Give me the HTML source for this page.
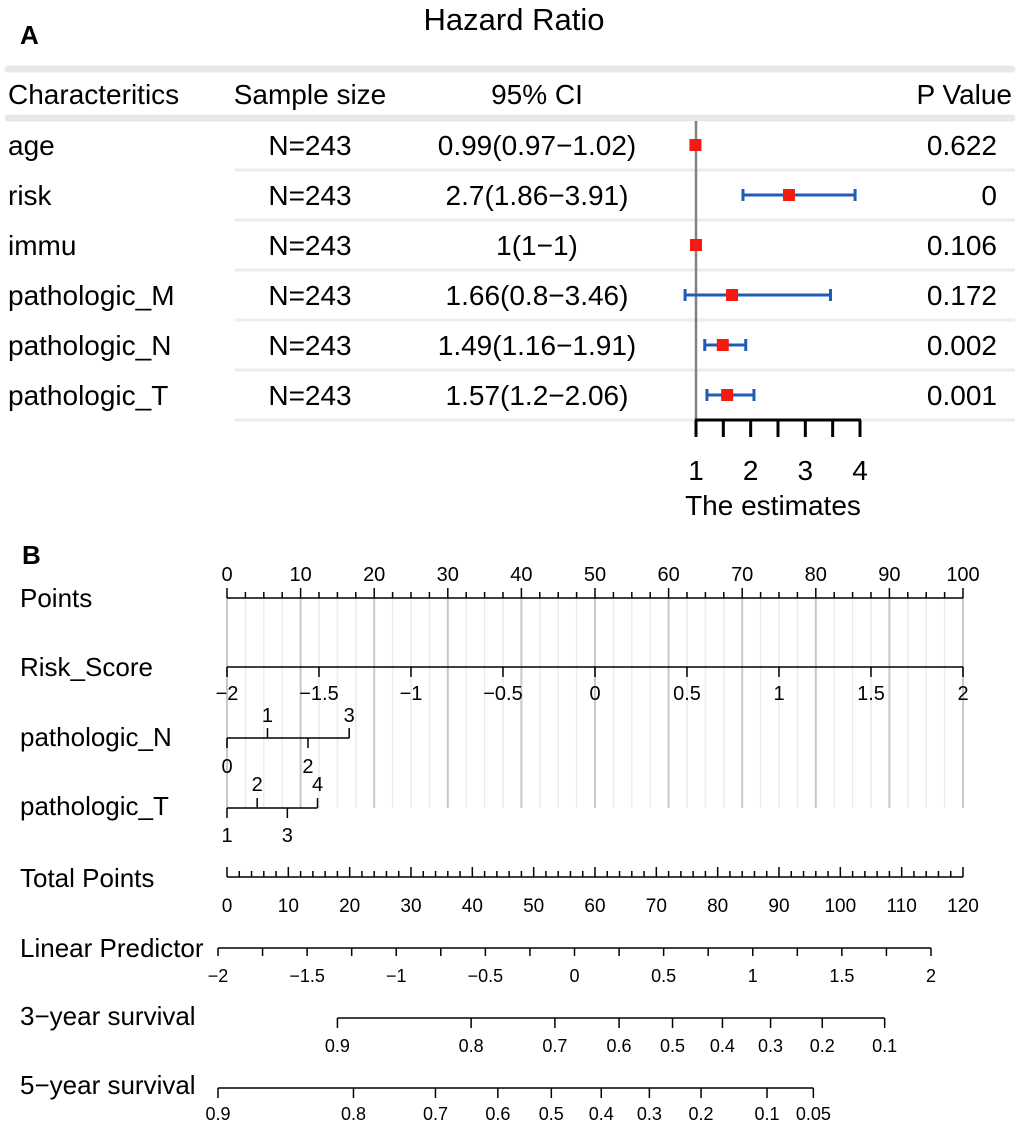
<!DOCTYPE html>
<html><head><meta charset="utf-8"><style>
body{margin:0;background:#fff}
svg{display:block;font-family:"Liberation Sans",Arial,sans-serif}
</style></head><body>
<svg id="fig" width="1020" height="1126" viewBox="0 0 1020 1126">
<g id="panelA"></g>
<g id="panelB"></g>
</svg>
<script>
// ---------- Panel A data ----------
const rowNames = ["age","risk","immu","pathologic_M","pathologic_N","pathologic_T"];
const sampleSizes = ["N=243","N=243","N=243","N=243","N=243","N=243"];
const hrEst = [0.99,2.7,1,1.66,1.49,1.57];
const hrLow = [0.97,1.86,1,0.8,1.16,1.2];
const hrHigh = [1.02,3.91,1,3.46,1.91,2.06];
const pValues = ["0.622","0","0.106","0.172","0.002","0.001"];
const hrTicks = [1,1.5,2,2.5,3,3.5,4];
const hrTickLabels = [1,2,3,4];

// ---------- Panel B data ----------
const pointsTicks = [0,10,20,30,40,50,60,70,80,90,100];
const riskTicks = [-2,-1.5,-1,-0.5,0,0.5,1,1.5,2];
const nLevels = ["0","1","2","3"];
const nPoints = [0,5.5,11,16.6];
const tLevels = ["1","2","3","4"];
const tPoints = [0,4.1,8.2,12.3];
const totalTicks = [0,10,20,30,40,50,60,70,80,90,100,110,120];
const lpTicks = [-2,-1.5,-1,-0.5,0,0.5,1,1.5,2];
const surv3Labels = ["0.9","0.8","0.7","0.6","0.5","0.4","0.3","0.2","0.1"];
const surv3LP = [-1.33,-0.58,-0.11,0.25,0.55,0.83,1.1,1.39,1.74];
const surv5Labels = ["0.9","0.8","0.7","0.6","0.5","0.4","0.3","0.2","0.1","0.05"];
const surv5LP = [-2,-1.24,-0.78,-0.43,-0.13,0.15,0.42,0.71,1.08,1.34];

const NS="http://www.w3.org/2000/svg";
function mk(parent,tag,attrs,text){const e=document.createElementNS(NS,tag);for(const k in attrs)e.setAttribute(k,attrs[k]);if(text!==undefined)e.textContent=text;parent.appendChild(e);return e;}

// ===== Panel A =====
const A=document.getElementById('panelA');
const hx=v=>696+(v-1)*(164/3);
const rowY=i=>145+i*50;
const FS=28;
let t;
t=mk(A,'text',{x:20,y:44,'font-size':26,'font-weight':'bold'},'A');

t=mk(A,'text',{x:514,y:30,'font-size':31,'text-anchor':'middle'},'Hazard Ratio');

t=mk(A,'line',{x1:8,x2:1012,y1:69,y2:69,stroke:'#e8e8e8','stroke-width':7,'stroke-linecap':'round'});

t=mk(A,'line',{x1:8,x2:1012,y1:118,y2:118,stroke:'#e8e8e8','stroke-width':7,'stroke-linecap':'round'});

const heads=[["Characteritics",8,'start'],["Sample size",310,'middle'],["95% CI",537,'middle'],["P Value",1012,'end']];
heads.forEach(h=>{const e=mk(A,'text',{x:h[1],y:104,'font-size':FS,'text-anchor':h[2]},h[0]);
});
rowNames.forEach((n,i)=>{
 const y=rowY(i);
 const sep=mk(A,'line',{x1:235,x2:1015,y1:y+25,y2:y+25,stroke:'#ececec','stroke-width':3});
 
 let e=mk(A,'text',{x:8,y:y+10,'font-size':FS},n);
 
 e=mk(A,'text',{x:310,y:y+10,'font-size':FS,'text-anchor':'middle'},sampleSizes[i]);
 
 e=mk(A,'text',{x:537,y:y+10,'font-size':FS,'text-anchor':'middle'},hrEst[i]+'('+hrLow[i]+'\u2212'+hrHigh[i]+')');
 
 e=mk(A,'text',{x:997,y:y+10,'font-size':FS,'text-anchor':'end'},pValues[i]);
 
});
t=mk(A,'line',{x1:696,x2:696,y1:121,y2:420,stroke:'#808080','stroke-width':2.5});

rowNames.forEach((n,i)=>{
 const y=rowY(i);
 if(hrHigh[i]-hrLow[i]>0.1){
  const g=mk(A,'g',{stroke:'#1f5db5','stroke-width':3});
  
  mk(g,'line',{x1:hx(hrLow[i]),x2:hx(hrHigh[i]),y1:y,y2:y});
  mk(g,'line',{x1:hx(hrLow[i]),x2:hx(hrLow[i]),y1:y-6,y2:y+6});
  mk(g,'line',{x1:hx(hrHigh[i]),x2:hx(hrHigh[i]),y1:y-6,y2:y+6});
 }
 const s=mk(A,'rect',{x:hx(hrEst[i])-6,y:y-6,width:12,height:12,fill:'#f51a10'});
 
});
t=mk(A,'line',{x1:hx(1)-1,x2:hx(4)+1,y1:420,y2:420,stroke:'#000','stroke-width':3});

hrTicks.forEach(v=>{const e=mk(A,'line',{x1:hx(v),x2:hx(v),y1:420,y2:437,stroke:'#000','stroke-width':3});
});
hrTickLabels.forEach(v=>{const e=mk(A,'text',{x:hx(v),y:480,'font-size':FS,'text-anchor':'middle'},v);
});
t=mk(A,'text',{x:773,y:515,'font-size':FS,'text-anchor':'middle'},'The estimates');


// ===== Panel B =====
const B=document.getElementById('panelB');
const px=v=>227+v*7.36;              // points scale
const rx=v=>227+(v+2)*184;           // risk score scale
const tx=v=>227+v*(736/120);         // total points
const lx=v=>218+(v+2)*(713/4);       // linear predictor
t=mk(B,'text',{x:22,y:564,'font-size':26,'font-weight':'bold'},'B');

const labs=[["Points",598],["Risk_Score",667],["pathologic_N",737],["pathologic_T",806],["Total Points",878],["Linear Predictor",948],["3\u2212year survival",1016],["5\u2212year survival",1085]];
labs.forEach(l=>{const e=mk(B,'text',{x:20,y:l[1]+9,'font-size':26},l[0]);
});
// grid
for(let v=0;v<=100;v+=2.5){
 const major=v%10===0;
 const g=mk(B,'line',{x1:px(v),x2:px(v),y1:598,y2:808,stroke:major?'#c8c8c8':'#ececec','stroke-width':major?2:1.5});
 
}
function axis(name,x1,x2,y){const e=mk(B,'line',{x1:x1,x2:x2,y1:y,y2:y,stroke:'#000','stroke-width':1.5});
 }
function tick(x,y,len){const e=mk(B,'line',{x1:x,x2:x,y1:y,y2:y+len,stroke:'#000','stroke-width':1.5});
 }
function lab(x,y,s,fs){const e=mk(B,'text',{x:x,y:y,'font-size':fs||17,'text-anchor':'middle'},s);
 }
// Points
axis('points-axis',px(0),px(100),598);
for(let v=0;v<=100;v+=2.5) tick(px(v),598,v%10===0?-10:-6);
pointsTicks.forEach(v=>lab(px(v),581,v,20));
// Risk score
axis('risk-score-axis',rx(-2),rx(2),667);
riskTicks.forEach(v=>{tick(rx(v),667,10);lab(rx(v),700,String(v).replace('-','\u2212'),20);});
// pathologic N
axis('pathologic-n-axis',px(nPoints[0]),px(nPoints[nPoints.length-1]),738);
nPoints.forEach((p,i)=>{const up=i%2===1;tick(px(p),738,up?-10:10);lab(px(p),up?722:773,nLevels[i],20);});
// pathologic T
axis('pathologic-t-axis',px(tPoints[0]),px(tPoints[tPoints.length-1]),808);
tPoints.forEach((p,i)=>{const up=i%2===1;tick(px(p),808,up?-10:10);lab(px(p),up?791:842,tLevels[i],20);});
// Total points
axis('total-points-axis',tx(0),tx(120),877);
for(let v=0;v<=120;v+=2) tick(tx(v),877,v%10===0?-10:-6);
totalTicks.forEach(v=>lab(tx(v),912,v,19));
// Linear predictor
axis('linear-predictor-axis',lx(-2),lx(2),948);
for(let v=-2;v<=2.001;v+=0.25) tick(lx(v),948,8);
lpTicks.forEach(v=>lab(lx(v),982,String(v).replace('-','\u2212'),18));
// 3-year
axis('3-year-survival-axis',lx(surv3LP[0]),lx(surv3LP[surv3LP.length-1]),1018);
surv3LP.forEach((v,i)=>{tick(lx(v),1018,10);lab(lx(v),1052,surv3Labels[i],18);});
// 5-year
axis('5-year-survival-axis',lx(surv5LP[0]),lx(surv5LP[surv5LP.length-1]),1088);
surv5LP.forEach((v,i)=>{tick(lx(v),1088,10);lab(lx(v),1120,surv5Labels[i],18);});
</script>
</body></html>
